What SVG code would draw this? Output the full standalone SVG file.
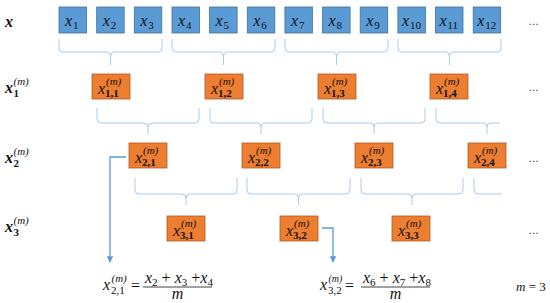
<svg xmlns="http://www.w3.org/2000/svg" width="550" height="303" viewBox="0 0 550 303">
<style>
.bb{fill:#5B9BD5;stroke:#41719C;stroke-width:0.8}
.ob{fill:#ED7D31;stroke:#AE5A21;stroke-width:0.8}
.t{font-family:"Liberation Serif","DejaVu Serif",serif;fill:#111}
.i{font-style:italic;font-size:16px}
.s{font-size:11px}
.sm{font-style:italic;font-size:11px}
.bi{font-style:italic;font-weight:bold;font-size:16px}
.b{font-weight:bold}
.br{fill:none;stroke:#A9CBEA;stroke-width:1}
.ar{fill:none;stroke:#5B9BD5;stroke-width:1.3}
.dots{font-family:"Liberation Sans",sans-serif;font-size:11px;fill:#333}
</style>
<defs>
<marker id="ah" viewBox="0 0 10 10" refX="9" refY="5" markerWidth="5" markerHeight="5" orient="auto" markerUnits="strokeWidth">
<path d="M0,0 L10,5 L0,10 z" fill="#5B9BD5"/>
</marker>
</defs>

<g id="labels" class="t">
<text x="5" y="27" class="bi">x</text>
<text x="5" y="93" class="bi">x</text><text x="13.5" y="85" class="sm">(m)</text><text x="13.5" y="97" class="s b">1</text>
<text x="5" y="163" class="bi">x</text><text x="13.5" y="155" class="sm">(m)</text><text x="13.5" y="167" class="s b">2</text>
<text x="5" y="232" class="bi">x</text><text x="13.5" y="224" class="sm">(m)</text><text x="13.5" y="236" class="s b">3</text>
</g>

<g id="connectors">
<path class="br" d="M59,39 V48 Q59,52 63,52 H106.5 Q110.5,52 110.5,56 V65 M110.5,56 Q110.5,52 114.5,52 H158 Q162,52 162,48 V39"/>
<path class="br" d="M172,39 V48 Q172,52 176,52 H219.5 Q223.5,52 223.5,56 V65 M223.5,56 Q223.5,52 227.5,52 H271 Q275,52 275,48 V39"/>
<path class="br" d="M285,39 V48 Q285,52 289,52 H332.5 Q336.5,52 336.5,56 V65 M336.5,56 Q336.5,52 340.5,52 H384 Q388,52 388,48 V39"/>
<path class="br" d="M398,39 V48 Q398,52 402,52 H445.5 Q449.5,52 449.5,56 V65 M449.5,56 Q449.5,52 453.5,52 H497 Q501,52 501,48 V39"/>

<path class="br" d="M97,108 V119 Q97,123 101,123 H144 Q148,123 148,127 V134 M148,127 Q148,123 152,123 H195 Q199,123 199,119 V108"/>
<path class="br" d="M210,108 V119 Q210,123 214,123 H257 Q261,123 261,127 V134 M261,127 Q261,123 265,123 H308 Q312,123 312,119 V108"/>
<path class="br" d="M323,108 V119 Q323,123 327,123 H370 Q374,123 374,127 V134 M374,127 Q374,123 378,123 H421 Q425,123 425,119 V108"/>
<path class="br" d="M436,108 V119 Q436,123 440,123 H483 Q487,123 487,127 V134 M487,127 Q487,123 491,123 H500"/>

<path class="br" d="M135,178 V190 Q135,194 139,194 H182 Q186,194 186,198 V205 M186,198 Q186,194 190,194 H233 Q237,194 237,190 V178"/>
<path class="br" d="M247,178 V190 Q247,194 251,194 H294.5 Q298.5,194 298.5,198 V205 M298.5,198 Q298.5,194 302.5,194 H346 Q350,194 350,190 V178"/>
<path class="br" d="M361,178 V190 Q361,194 365,194 H408 Q412,194 412,198 V205 M412,198 Q412,194 416,194 H459 Q463,194 463,190 V178"/>
<path class="br" d="M474,178 V190 Q474,194 478,194 H502"/>

<path class="ar" d="M126,157 H110 V262" marker-end="url(#ah)"/>
<path class="ar" d="M322,228 H333 V262" marker-end="url(#ah)"/>
</g>

<g id="row-x" class="t">
<g id="x1"><rect class="bb" x="59" y="7" width="27.5" height="26"/><text x="65" y="26" class="i">x</text><text x="73" y="29" class="s">1</text></g>
<g id="x2"><rect class="bb" x="96.7" y="7" width="27.5" height="26"/><text x="102.7" y="26" class="i">x</text><text x="110.7" y="29" class="s">2</text></g>
<g id="x3"><rect class="bb" x="134.3" y="7" width="27.5" height="26"/><text x="140.3" y="26" class="i">x</text><text x="148.3" y="29" class="s">3</text></g>
<g id="x4"><rect class="bb" x="172" y="7" width="27.5" height="26"/><text x="178" y="26" class="i">x</text><text x="186" y="29" class="s">4</text></g>
<g id="x5"><rect class="bb" x="209.6" y="7" width="27.5" height="26"/><text x="215.6" y="26" class="i">x</text><text x="223.6" y="29" class="s">5</text></g>
<g id="x6"><rect class="bb" x="247.3" y="7" width="27.5" height="26"/><text x="253.3" y="26" class="i">x</text><text x="261.3" y="29" class="s">6</text></g>
<g id="x7"><rect class="bb" x="284.9" y="7" width="27.5" height="26"/><text x="290.9" y="26" class="i">x</text><text x="298.9" y="29" class="s">7</text></g>
<g id="x8"><rect class="bb" x="322.6" y="7" width="27.5" height="26"/><text x="328.6" y="26" class="i">x</text><text x="336.6" y="29" class="s">8</text></g>
<g id="x9"><rect class="bb" x="360.2" y="7" width="27.5" height="26"/><text x="366.2" y="26" class="i">x</text><text x="374.2" y="29" class="s">9</text></g>
<g id="x10"><rect class="bb" x="397.9" y="7" width="27.5" height="26"/><text x="401.9" y="26" class="i">x</text><text x="409.9" y="29" class="s">10</text></g>
<g id="x11"><rect class="bb" x="435.5" y="7" width="27.5" height="26"/><text x="439.5" y="26" class="i">x</text><text x="447.5" y="29" class="s">11</text></g>
<g id="x12"><rect class="bb" x="473.2" y="7" width="27.5" height="26"/><text x="477.2" y="26" class="i">x</text><text x="485.2" y="29" class="s">12</text></g>
<text x="528" y="25" class="dots">…</text>
</g>

<g id="row-1" class="t">
<g id="x11m"><rect class="ob" x="92" y="74" width="38" height="25"/><text x="98" y="94" class="i">x</text><text x="106" y="85" class="sm">(m)</text><text x="105" y="97" class="s b">1,1</text></g>
<g id="x12m"><rect class="ob" x="205" y="74" width="38" height="25"/><text x="211" y="94" class="i">x</text><text x="219" y="85" class="sm">(m)</text><text x="218" y="97" class="s b">1,2</text></g>
<g id="x13m"><rect class="ob" x="318" y="74" width="38" height="25"/><text x="324" y="94" class="i">x</text><text x="332" y="85" class="sm">(m)</text><text x="331" y="97" class="s b">1,3</text></g>
<g id="x14m"><rect class="ob" x="430" y="74" width="38" height="25"/><text x="436" y="94" class="i">x</text><text x="444" y="85" class="sm">(m)</text><text x="443" y="97" class="s b">1,4</text></g>
<text x="528" y="91" class="dots">…</text>
</g>

<g id="row-2" class="t">
<g id="x21m"><rect class="ob" x="129" y="143" width="38" height="25"/><text x="135" y="163" class="i">x</text><text x="143" y="154" class="sm">(m)</text><text x="142" y="166" class="s b">2,1</text></g>
<g id="x22m"><rect class="ob" x="242" y="143" width="38" height="25"/><text x="248" y="163" class="i">x</text><text x="256" y="154" class="sm">(m)</text><text x="255" y="166" class="s b">2,2</text></g>
<g id="x23m"><rect class="ob" x="355" y="143" width="38" height="25"/><text x="361" y="163" class="i">x</text><text x="369" y="154" class="sm">(m)</text><text x="368" y="166" class="s b">2,3</text></g>
<g id="x24m"><rect class="ob" x="468" y="143" width="38" height="25"/><text x="474" y="163" class="i">x</text><text x="482" y="154" class="sm">(m)</text><text x="481" y="166" class="s b">2,4</text></g>
<text x="528" y="162" class="dots">…</text>
</g>

<g id="row-3" class="t">
<g id="x31m"><rect class="ob" x="167" y="216" width="38" height="25"/><text x="173" y="236" class="i">x</text><text x="181" y="227" class="sm">(m)</text><text x="180" y="239" class="s b">3,1</text></g>
<g id="x32m"><rect class="ob" x="280" y="216" width="38" height="25"/><text x="286" y="236" class="i">x</text><text x="294" y="227" class="sm">(m)</text><text x="293" y="239" class="s b">3,2</text></g>
<g id="x33m"><rect class="ob" x="392" y="216" width="38" height="25"/><text x="398" y="236" class="i">x</text><text x="406" y="227" class="sm">(m)</text><text x="405" y="239" class="s b">3,3</text></g>
<text x="528" y="234" class="dots">…</text>
</g>

<g id="formula-1" class="t">
<text x="103" y="290" class="i">x</text><text x="111.5" y="282" class="sm">(m)</text><text x="111" y="294" class="s">2,1</text>
<text x="131" y="291" style="font-size:16px">=</text>
<text x="145" y="283" class="i">x<tspan class="s" style="font-style:normal" dy="3">2</tspan><tspan dy="-3" style="font-style:normal"> + </tspan>x<tspan class="s" style="font-style:normal" dy="3">3</tspan><tspan dy="-3" style="font-style:normal"> +</tspan>x<tspan class="s" style="font-style:normal" dy="3">4</tspan></text>
<line x1="143" y1="287" x2="212" y2="287" stroke="#111" stroke-width="0.8"/>
<text x="177.5" y="299" class="i" text-anchor="middle">m</text>
</g>

<g id="formula-2" class="t">
<text x="320" y="290" class="i">x</text><text x="328.5" y="282" class="sm" style="font-size:10px">(m)</text><text x="328" y="294" class="s">3,2</text>
<text x="345" y="291" style="font-size:16px">=</text>
<text x="363" y="283" class="i">x<tspan class="s" style="font-style:normal" dy="3">6</tspan><tspan dy="-3" style="font-style:normal"> + </tspan>x<tspan class="s" style="font-style:normal" dy="3">7</tspan><tspan dy="-3" style="font-style:normal"> +</tspan>x<tspan class="s" style="font-style:normal" dy="3">8</tspan></text>
<line x1="361" y1="287" x2="430" y2="287" stroke="#111" stroke-width="0.8"/>
<text x="395.5" y="299" class="i" text-anchor="middle">m</text>
<text x="516" y="291" class="t" style="font-size:13px"><tspan font-style="italic">m</tspan> = 3</text>
</g>
</svg>
